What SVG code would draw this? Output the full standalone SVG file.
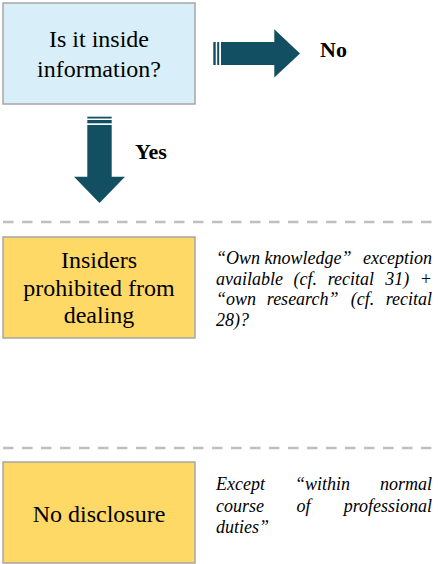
<svg xmlns="http://www.w3.org/2000/svg" width="438" height="564" viewBox="0 0 438 564">
  <style>
    .box { stroke: #A6A6A6; stroke-width: 1.5; }
    .q { fill: #D8EFF9; }
    .rule { fill: #FFD966; }
    .arrow { fill: #124F63; }
    .divider { stroke: #BFBFBF; stroke-width: 2.5; stroke-dasharray: 10.5 8.5; fill: none; }
  </style>

  <!-- question node -->
  <g id="node-question">
    <rect class="box q" x="3" y="3" width="192" height="101"/>
    <text style="font-family:'Liberation Serif',serif;font-size:24px;text-anchor:middle" x="99" y="47">Is it inside</text>
    <text style="font-family:'Liberation Serif',serif;font-size:24px;text-anchor:middle" x="99" y="77">information?</text>
  </g>

  <!-- striped arrows with their answers -->
  <g id="connectors">
    <g id="arrow-no">
      <rect class="arrow" x="213.3" y="42" width="2.4" height="23"/>
      <rect class="arrow" x="217.2" y="42" width="2" height="23"/>
      <polygon class="arrow" points="221,42 274.3,42 274.3,29.3 300,53.5 274.3,77.5 274.3,65 221,65"/>
    </g>
    <text style="font-family:'Liberation Serif',serif;font-size:22px;font-weight:bold" x="320" y="57">No</text>

    <g id="arrow-yes">
      <rect class="arrow" x="87.3" y="116.7" width="24.4" height="1.8"/>
      <rect class="arrow" x="87.3" y="120" width="24.4" height="3.3"/>
      <polygon class="arrow" points="87.3,125 111.7,125 111.7,176.7 125,176.7 99.5,203 74,176.7 87.3,176.7"/>
    </g>
    <text style="font-family:'Liberation Serif',serif;font-size:22px;font-weight:bold" x="135" y="159">Yes</text>
  </g>

  <!-- section dividers -->
  <line class="divider" x1="3" y1="222" x2="438" y2="222"/>
  <line class="divider" x1="3" y1="448" x2="438" y2="448"/>

  <!-- dealing prohibition -->
  <g id="node-dealing">
    <rect class="box rule" x="3" y="237" width="192" height="101"/>
    <text style="font-family:'Liberation Serif',serif;font-size:24px;text-anchor:middle" x="99" y="268">Insiders</text>
    <text style="font-family:'Liberation Serif',serif;font-size:24px;text-anchor:middle" x="99" y="296">prohibited from</text>
    <text style="font-family:'Liberation Serif',serif;font-size:24px;text-anchor:middle" x="99" y="323">dealing</text>
  </g>
  <g id="note-dealing">
    <text style="font-family:'Liberation Serif',serif;font-size:18px;font-style:italic" x="216" y="264">“Own knowledge”</text>
    <text style="font-family:'Liberation Serif',serif;font-size:18px;font-style:italic;text-anchor:end" x="432" y="264">exception</text>
    <text style="font-family:'Liberation Serif',serif;font-size:18px;font-style:italic" x="216" y="285">available</text>
    <text style="font-family:'Liberation Serif',serif;font-size:18px;font-style:italic" x="293.6" y="285">(cf.</text>
    <text style="font-family:'Liberation Serif',serif;font-size:18px;font-style:italic" x="327.7" y="285">recital</text>
    <text style="font-family:'Liberation Serif',serif;font-size:18px;font-style:italic" x="385.3" y="285">31)</text>
    <text style="font-family:'Liberation Serif',serif;font-size:18px;font-style:italic;text-anchor:end" x="432" y="285">+</text>
    <text style="font-family:'Liberation Serif',serif;font-size:18px;font-style:italic" x="216" y="305">“own</text>
    <text style="font-family:'Liberation Serif',serif;font-size:18px;font-style:italic" x="266.8" y="305">research”</text>
    <text style="font-family:'Liberation Serif',serif;font-size:18px;font-style:italic" x="350.7" y="305">(cf.</text>
    <text style="font-family:'Liberation Serif',serif;font-size:18px;font-style:italic;text-anchor:end" x="432" y="305">recital</text>
    <text style="font-family:'Liberation Serif',serif;font-size:18px;font-style:italic" x="216" y="326">28)?</text>
  </g>

  <!-- disclosure prohibition -->
  <g id="node-disclosure">
    <rect class="box rule" x="3" y="462" width="192" height="101"/>
    <text style="font-family:'Liberation Serif',serif;font-size:24px;text-anchor:middle" x="99" y="522">No disclosure</text>
  </g>
  <g id="note-disclosure">
    <text style="font-family:'Liberation Serif',serif;font-size:18px;font-style:italic" x="216" y="490">Except</text>
    <text style="font-family:'Liberation Serif',serif;font-size:18px;font-style:italic" x="295" y="490">“within</text>
    <text style="font-family:'Liberation Serif',serif;font-size:18px;font-style:italic;text-anchor:end" x="432" y="490">normal</text>
    <text style="font-family:'Liberation Serif',serif;font-size:18px;font-style:italic" x="216" y="511.5">course</text>
    <text style="font-family:'Liberation Serif',serif;font-size:18px;font-style:italic" x="296.5" y="511.5">of</text>
    <text style="font-family:'Liberation Serif',serif;font-size:18px;font-style:italic;text-anchor:end" x="432" y="511.5">professional</text>
    <text style="font-family:'Liberation Serif',serif;font-size:18px;font-style:italic" x="216" y="533">duties”</text>
  </g>
</svg>
